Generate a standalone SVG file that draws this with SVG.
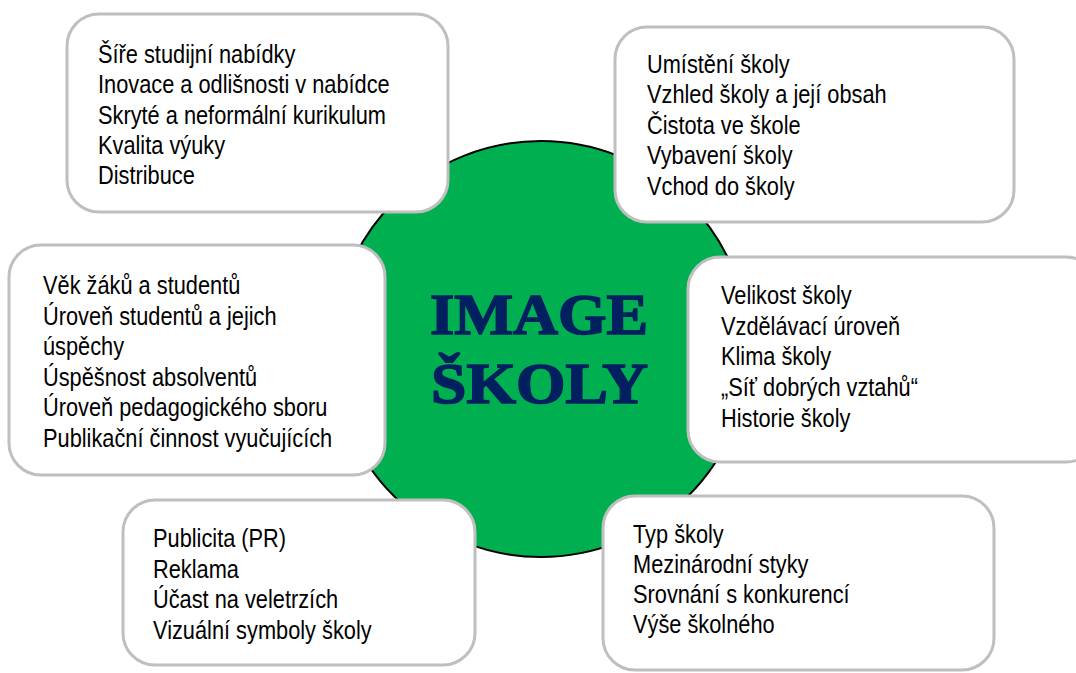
<svg xmlns="http://www.w3.org/2000/svg" width="1076" height="673" viewBox="0 0 1076 673">
<style>
.box{fill:#ffffff;stroke:#bfbfbf;stroke-width:3}
.t{font-family:"Liberation Sans",Arial,sans-serif;font-size:26px;fill:#000000}
.title{font-family:"Liberation Serif","Times New Roman",serif;font-weight:bold;font-size:58px;fill:#002060;stroke:#002060;stroke-width:1.6}
</style>
<rect width="1076" height="673" fill="#ffffff"/>
<g id="center">
<circle cx="541" cy="349" r="208" fill="#00b050" stroke="#000000" stroke-width="2"/>
<text class="title" x="430" y="334" textLength="218" lengthAdjust="spacingAndGlyphs">IMAGE</text>
<text class="title" x="431" y="403" textLength="217" lengthAdjust="spacingAndGlyphs">ŠKOLY</text>
</g>
<g id="connectors"/>
<g id="node-nabidka">
<rect class="box" x="67" y="14" width="381" height="198" rx="32"/>
<text class="t" transform="translate(98,63) scale(0.838,1)"><tspan x="0" y="0">Šíře studijní nabídky</tspan><tspan x="0" y="30.3">Inovace a odlišnosti v nabídce</tspan><tspan x="0" y="60.6">Skryté a neformální kurikulum</tspan><tspan x="0" y="90.9">Kvalita výuky</tspan><tspan x="0" y="121.2">Distribuce</tspan></text>
</g>
<g id="node-prostredi">
<rect class="box" x="615" y="27" width="399" height="195" rx="32"/>
<text class="t" transform="translate(647,73) scale(0.838,1)"><tspan x="0" y="0">Umístění školy</tspan><tspan x="0" y="30.5">Vzhled školy a její obsah</tspan><tspan x="0" y="61">Čistota ve škole</tspan><tspan x="0" y="91.5">Vybavení školy</tspan><tspan x="0" y="122">Vchod do školy</tspan></text>
</g>
<g id="node-studenti">
<rect class="box" x="9" y="245" width="376" height="230" rx="32"/>
<text class="t" transform="translate(43,294) scale(0.838,1)"><tspan x="0" y="0">Věk žáků a studentů</tspan><tspan x="0" y="30.6">Úroveň studentů a jejich</tspan><tspan x="0" y="61.2">úspěchy</tspan><tspan x="0" y="91.8">Úspěšnost absolventů</tspan><tspan x="0" y="122.4">Úroveň pedagogického sboru</tspan><tspan x="0" y="153">Publikační činnost vyučujících</tspan></text>
</g>
<g id="node-klima">
<rect class="box" x="688" y="257" width="410" height="205" rx="32"/>
<text class="t" transform="translate(721,304) scale(0.838,1)"><tspan x="0" y="0">Velikost školy</tspan><tspan x="0" y="30.75">Vzdělávací úroveň</tspan><tspan x="0" y="61.5">Klima školy</tspan><tspan x="0" y="92.25">„Síť dobrých vztahů“</tspan><tspan x="0" y="123">Historie školy</tspan></text>
</g>
<g id="node-propagace">
<rect class="box" x="123" y="500" width="352" height="165" rx="32"/>
<text class="t" transform="translate(153,547) scale(0.838,1)"><tspan x="0" y="0">Publicita (PR)</tspan><tspan x="0" y="30.7">Reklama</tspan><tspan x="0" y="61.4">Účast na veletrzích</tspan><tspan x="0" y="92.1">Vizuální symboly školy</tspan></text>
</g>
<g id="node-typ">
<rect class="box" x="603" y="496" width="391" height="174" rx="32"/>
<text class="t" transform="translate(633,543) scale(0.838,1)"><tspan x="0" y="0">Typ školy</tspan><tspan x="0" y="30">Mezinárodní styky</tspan><tspan x="0" y="60">Srovnání s konkurencí</tspan><tspan x="0" y="90">Výše školného</tspan></text>
</g>
</svg>
